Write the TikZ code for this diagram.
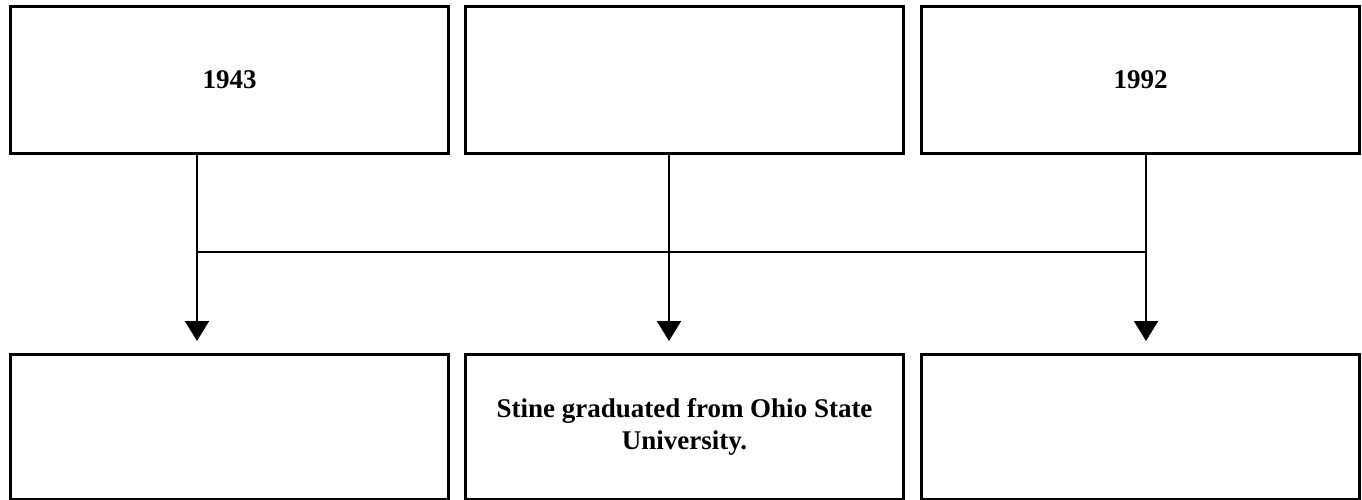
\documentclass[tikz,border=0pt]{standalone}
\usepackage{fontspec}
\setmainfont{Liberation Serif}
\usetikzlibrary{arrows.meta}
\begin{document}
\begin{tikzpicture}[x=1pt,y=-1pt,
  box/.style={draw=black,line width=3pt,minimum width=438pt,minimum height=146pt,inner sep=0pt,align=center,font=\fontsize{27}{32}\selectfont\bfseries},
  conn/.style={line width=2pt,draw=black},
  arr/.style={conn,-{Triangle[length=20pt,width=24pt]}}]
\useasboundingbox (0,0) rectangle (1362,500);
\node[box] (t1) at (229.5,80) {1943};
\node[box] (t2) at (684.5,80) {};
\node[box] (t3) at (1140.5,80) {1992};
\node[box,minimum height=145pt] (b1) at (229.5,426.5) {};
\node[box,minimum height=145pt] (b2) at (684.5,426.5) {Stine graduated from Ohio State\\University.};
\node[box,minimum height=145pt] (b3) at (1140.5,426.5) {};
\coordinate (j1) at (197,252);
\coordinate (j2) at (669,252);
\coordinate (j3) at (1146,252);
\coordinate (e1) at (197,341);
\coordinate (e2) at (669,341);
\coordinate (e3) at (1146,341);
\draw[conn] (t1.south -| j1) -- (j1);
\draw[conn] (t2.south -| j2) -- (j2);
\draw[conn] (t3.south -| j3) -- (j3);
\draw[conn] (j1) -- (j3);
\draw[arr] (j1) -- (e1);
\draw[arr] (j2) -- (e2);
\draw[arr] (j3) -- (e3);
\end{tikzpicture}
\end{document}
